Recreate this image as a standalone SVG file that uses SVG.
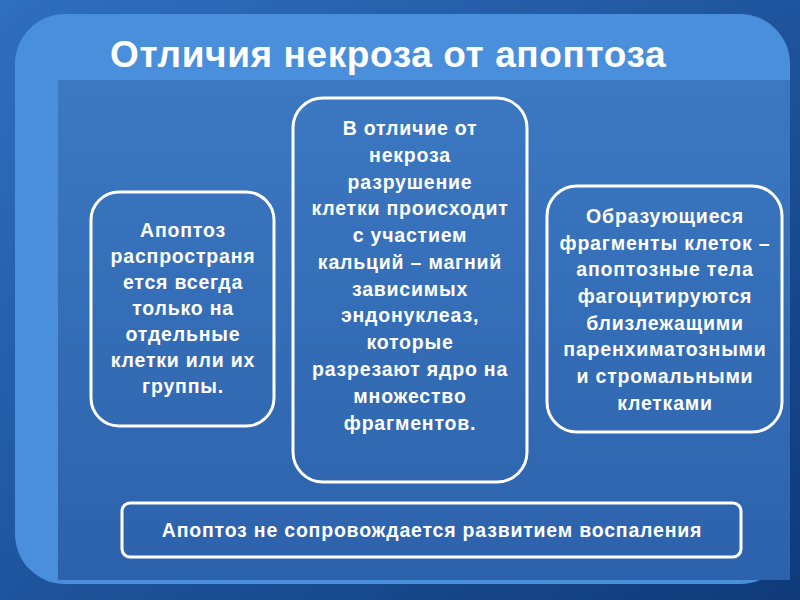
<svg xmlns="http://www.w3.org/2000/svg" width="800" height="600" viewBox="0 0 800 600">
<defs>
<linearGradient id="bg" x1="0" y1="0" x2="1" y2="1"><stop offset="0" stop-color="#2f6fc0"/><stop offset="1" stop-color="#0e3a7a"/></linearGradient>
<linearGradient id="panel" x1="0" y1="0" x2="0" y2="1"><stop offset="0" stop-color="#3c78c2"/><stop offset="1" stop-color="#2c62ab"/></linearGradient>
</defs>
<style>
.box{fill:none;stroke:#fff;stroke-width:3}
.t{font-family:"Liberation Sans",Arial,sans-serif;font-weight:bold;fill:#fff;font-size:19.5px;letter-spacing:0.8px;text-anchor:middle}
</style>
<rect width="800" height="600" fill="url(#bg)"/>
<rect x="15" y="14" width="775" height="570" rx="50" fill="#4a8fdc"/>
<rect x="58" y="80" width="732" height="500" fill="url(#panel)"/>
<text x="110" y="67" font-family="'Liberation Sans',Arial,sans-serif" font-weight="bold" font-size="37" letter-spacing="0.6" fill="#fff">Отличия некроза от апоптоза</text>
<g id="left"><rect class="box" x="91" y="192" width="183" height="234" rx="28"/>
<text class="t"><tspan x="183" y="237">Апоптоз</tspan><tspan x="183" y="263">распространя</tspan><tspan x="183" y="289">ется всегда</tspan><tspan x="183" y="315">только на</tspan><tspan x="183" y="341">отдельные</tspan><tspan x="183" y="367">клетки или их</tspan><tspan x="183" y="393">группы.</tspan></text></g>
<g id="middle"><rect class="box" x="293" y="98" width="234" height="384" rx="30"/>
<text class="t"><tspan x="410" y="135">В отличие от</tspan><tspan x="410" y="162">некроза</tspan><tspan x="410" y="189">разрушение</tspan><tspan x="410" y="215">клетки происходит</tspan><tspan x="410" y="242">с участием</tspan><tspan x="410" y="269">кальций – магний</tspan><tspan x="410" y="296">зависимых</tspan><tspan x="410" y="322">эндонуклеаз,</tspan><tspan x="410" y="349">которые</tspan><tspan x="410" y="376">разрезают ядро на</tspan><tspan x="410" y="403">множество</tspan><tspan x="410" y="430">фрагментов.</tspan></text></g>
<g id="right"><rect class="box" x="547" y="186" width="235" height="246" rx="30"/>
<text class="t"><tspan x="665" y="223">Образующиеся</tspan><tspan x="665" y="250">фрагменты клеток –</tspan><tspan x="665" y="276">апоптозные тела</tspan><tspan x="665" y="303">фагоцитируются</tspan><tspan x="665" y="330">близлежащими</tspan><tspan x="665" y="356">паренхиматозными</tspan><tspan x="665" y="383">и стромальными</tspan><tspan x="665" y="410">клетками</tspan></text></g>
<g id="bottom"><rect class="box" x="122" y="503" width="619" height="54" rx="8"/>
<text class="t" x="432" y="537">Апоптоз не сопровождается развитием воспаления</text></g>
<g id="connectors"/>
</svg>
